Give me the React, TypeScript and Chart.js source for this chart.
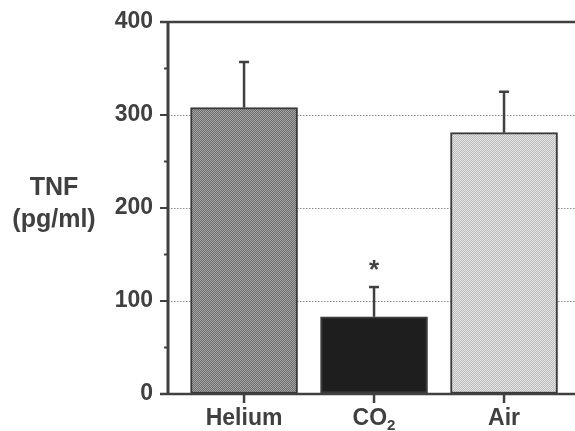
import React, { useEffect, useRef } from 'react';
import { Chart, registerables } from 'chart.js';
Chart.register(...registerables);

const categories = ['Helium', 'CO₂', 'Air'];
const positions = [1, 2, 3];
const means = [308, 83, 281];
const upperErrors = [49, 32, 44];
const significant = [false, true, false];
const yMajorTicks = [0, 100, 200, 300, 400];
const yMinorTicks = [50, 150, 250, 350];
const gridValues = [100, 200, 300];
const yTitleLines = ['TNF', '(pg/ml)'];

const INK = '#404040';
const FONT = '"Liberation Sans", Arial, Helvetica, sans-serif';

function makePattern(a: string, b: string) {
  const c = document.createElement('canvas');
  c.width = 2;
  c.height = 2;
  const g = c.getContext('2d')!;
  g.fillStyle = a;
  g.fillRect(0, 0, 2, 2);
  g.fillStyle = b;
  g.fillRect(0, 0, 1, 1);
  g.fillRect(1, 1, 1, 1);
  return g.createPattern(c, 'repeat')!;
}

const customPlugin = {
  id: 'custom',
  beforeDatasetsDraw(chart: any) {
    const { ctx, chartArea, scales } = chart;
    const y = scales.y;
    ctx.save();
    ctx.strokeStyle = '#8a8a8a';
    ctx.lineWidth = 1;
    ctx.setLineDash([1.5, 1.5]);
    gridValues.forEach((v) => {
      const py = Math.round(y.getPixelForValue(v)) + 0.5;
      ctx.beginPath();
      ctx.moveTo(chartArea.left, py);
      ctx.lineTo(chartArea.right, py);
      ctx.stroke();
    });
    ctx.restore();
  },
  afterDatasetsDraw(chart: any) {
    const { ctx, chartArea, scales } = chart;
    const x = scales.x;
    const y = scales.y;
    ctx.save();
    ctx.strokeStyle = INK;
    ctx.fillStyle = INK;
    // error bars
    positions.forEach((p, i) => {
      const px = x.getPixelForValue(p);
      const top = y.getPixelForValue(means[i] + upperErrors[i]);
      const base = y.getPixelForValue(means[i]);
      ctx.lineWidth = 2.5;
      ctx.beginPath();
      ctx.moveTo(px, base);
      ctx.lineTo(px, top);
      ctx.stroke();
      ctx.beginPath();
      ctx.moveTo(px - 5, top);
      ctx.lineTo(px + 5, top);
      ctx.stroke();
      if (significant[i]) {
        ctx.font = `bold 26px ${FONT}`;
        ctx.textAlign = 'center';
        ctx.textBaseline = 'alphabetic';
        ctx.fillText('*', px, top - 9);
      }
    });
    // axes
    const y0 = y.getPixelForValue(0);
    const yTop = y.getPixelForValue(400);
    ctx.lineWidth = 3;
    ctx.beginPath();
    ctx.moveTo(chartArea.left, yTop - 1);
    ctx.lineTo(chartArea.left, y0 + 1);
    ctx.stroke();
    ctx.lineWidth = 2.5;
    ctx.beginPath();
    ctx.moveTo(chartArea.left - 8, yTop);
    ctx.lineTo(chartArea.right, yTop);
    ctx.stroke();
    ctx.beginPath();
    ctx.moveTo(chartArea.left - 8, y0);
    ctx.lineTo(chartArea.right, y0);
    ctx.stroke();
    ctx.lineWidth = 2;
    yMajorTicks.forEach((v) => {
      const py = y.getPixelForValue(v);
      ctx.beginPath();
      ctx.moveTo(chartArea.left - 8, py);
      ctx.lineTo(chartArea.left, py);
      ctx.stroke();
    });
    yMinorTicks.forEach((v) => {
      const py = y.getPixelForValue(v);
      ctx.beginPath();
      ctx.moveTo(chartArea.left - 4, py);
      ctx.lineTo(chartArea.left, py);
      ctx.stroke();
    });
    // x ticks and labels
    positions.forEach((p, i) => {
      const px = x.getPixelForValue(p);
      ctx.lineWidth = 2.5;
      ctx.beginPath();
      ctx.moveTo(px, y0);
      ctx.lineTo(px, y0 + 9);
      ctx.stroke();
      const label = categories[i];
      ctx.textBaseline = 'alphabetic';
      const base = y0 + 31;
      const subIdx = label.indexOf('₂');
      if (subIdx >= 0) {
        const main = label.slice(0, subIdx);
        ctx.font = `bold 23px ${FONT}`;
        const w1 = ctx.measureText(main).width;
        ctx.font = `bold 15px ${FONT}`;
        const w2 = ctx.measureText('2').width;
        const start = px - (w1 + w2) / 2;
        ctx.textAlign = 'left';
        ctx.font = `bold 23px ${FONT}`;
        ctx.fillText(main, start, base);
        ctx.font = `bold 15px ${FONT}`;
        ctx.fillText('2', start + w1, base + 5);
      } else {
        ctx.font = `bold 23px ${FONT}`;
        ctx.textAlign = 'center';
        ctx.fillText(label, px, base);
      }
    });
    // y title
    ctx.font = `bold 25px ${FONT}`;
    ctx.textAlign = 'center';
    ctx.textBaseline = 'middle';
    ctx.fillText(yTitleLines[0], 54, 188);
    ctx.fillText(yTitleLines[1], 54, 220);
    ctx.restore();
  },
};

export default function App() {
  const ref = useRef<HTMLCanvasElement>(null);
  useEffect(() => {
    if (!ref.current) return;
    const fills = [
      makePattern('#686868', '#aaaaaa'),
      '#1e1e1e',
      makePattern('#bcbcbc', '#e4e4e4'),
    ];
    const chart = new Chart(ref.current, {
      type: 'bar',
      data: {
        datasets: [
          {
            data: positions.map((p, i) => ({ x: p, y: means[i] })),
            backgroundColor: fills as any,
            borderColor: '#3a3a3a',
            borderWidth: 2,
            borderSkipped: false,
            barThickness: 107,
          },
        ],
      },
      options: {
        animation: false,
        responsive: true,
        maintainAspectRatio: false,
        layout: { padding: { left: 0, top: 22, right: 0, bottom: 37 } },
        plugins: { legend: { display: false }, tooltip: { enabled: false } },
        scales: {
          x: {
            type: 'linear',
            min: 0.415,
            max: 3.546,
            offset: false,
            display: false,
          },
          y: {
            min: 0,
            max: 400,
            afterFit: (s: any) => {
              s.width = 168;
            },
            ticks: {
              stepSize: 100,
              padding: 3,
              color: INK,
              font: { family: FONT, size: 23, weight: 'bold' },
            },
            grid: {
              display: true,
              drawOnChartArea: false,
              drawTicks: true,
              tickLength: 12,
              tickColor: 'rgba(0,0,0,0)',
            },
            border: { display: false },
          },
        },
      },
      plugins: [customPlugin],
    });
    return () => chart.destroy();
  }, []);
  return (
    <div style={{ position: 'absolute', left: 0, top: 0, width: 575, height: 431, background: '#fff' }}>
      <canvas ref={ref} />
    </div>
  );
}
